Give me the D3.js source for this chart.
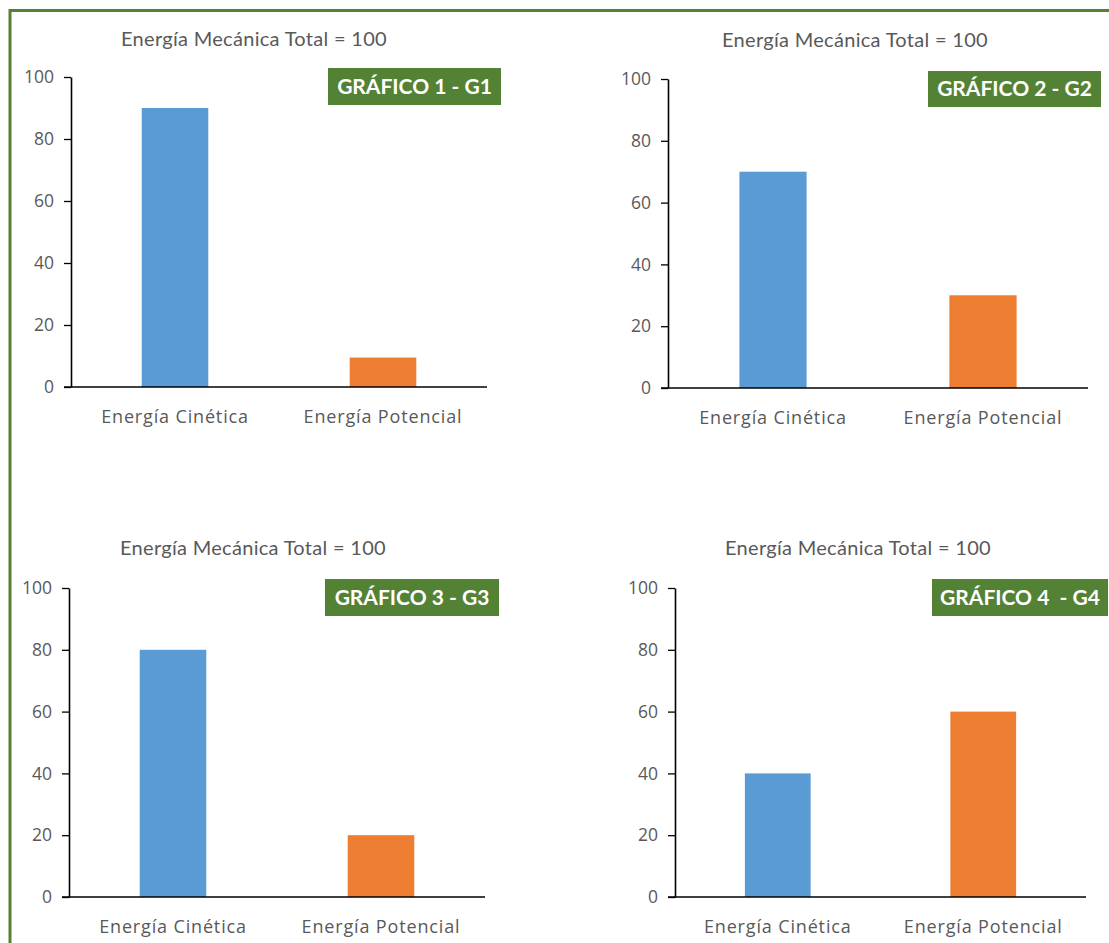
<!DOCTYPE html>
<html>
<head>
<meta charset="utf-8">
<script src="https://cdn.jsdelivr.net/npm/d3@7"></script>
<style>
  html, body { margin: 0; padding: 0; background: #fff; }
  svg { display: block; }
</style>
</head>
<body>
<svg id="chart" width="1109" height="943"></svg>
<script>
// --- data ---
const categories = ["Energía Cinética", "Energía Potencial"];
const g1Values = [90, 9.5];
const g2Values = [70, 30];
const g3Values = [80, 20];
const g4Values = [40, 60];
const chartTitles = ["Energía Mecánica Total = 100", "Energía Mecánica Total = 100",
                     "Energía Mecánica Total = 100", "Energía Mecánica Total = 100"];
const badgeLabels = ["GRÁFICO 1 - G1", "GRÁFICO 2 - G2", "GRÁFICO 3 - G3", "GRÁFICO 4  - G4"];
const yTicks = [0, 20, 40, 60, 80, 100];

const seriesValues = [g1Values, g2Values, g3Values, g4Values];
const barColors = ["#5b9bd5", "#ed7d31"];
const GREEN = "#548235";

// panel layout: plot area (axis corner) + title + badge
const panels = [
  { x0: 71, x1: 487, yTop: 77, yBot: 387, titleX: 254, titleY: 38.5, bx: 328, by: 68, bw: 173, bh: 37 },
  { x0: 668, x1: 1088, yTop: 79, yBot: 388, titleX: 855, titleY: 40, bx: 928, by: 71, bw: 173, bh: 36 },
  { x0: 69, x1: 485, yTop: 588, yBot: 897, titleX: 253, titleY: 548, bx: 325, by: 579, bw: 174, bh: 37 },
  { x0: 675, x1: 1086, yTop: 588, yBot: 897, titleX: 858, titleY: 548, bx: 932, by: 579, bw: 176, bh: 37 }
];

const svg = d3.select("#chart");

// outer green frame (runs off the right and bottom edges)
svg.append("rect")
  .attr("x", 10).attr("y", 10.5)
  .attr("width", 1120).attr("height", 960)
  .attr("fill", "none")
  .attr("stroke", GREEN)
  .attr("stroke-width", 3);

panels.forEach((p, i) => {
  const values = seriesValues[i];
  const g = svg.append("g");

  const x = d3.scaleBand()
    .domain(categories)
    .range([p.x0, p.x1])
    .paddingInner(0.68)
    .paddingOuter(0.34);

  const y = d3.scaleLinear()
    .domain([0, 100])
    .range([p.yBot, p.yTop]);

  // title
  g.append("text")
    .attr("x", p.titleX)
    .attr("y", p.titleY)
    .attr("dy", "0.35em")
    .attr("text-anchor", "middle")
    .attr("fill", "#595959")
    .attr("font-family", "Lato, 'Open Sans', sans-serif")
    .attr("font-size", "20px")
    .attr("letter-spacing", "0.3px")
    .text(chartTitles[i]);

  // bars
  g.selectAll(".bar")
    .data(categories.map((c, k) => ({ cat: c, value: values[k], k })))
    .join("rect")
    .attr("class", "bar")
    .attr("x", d => x(d.cat))
    .attr("width", x.bandwidth())
    .attr("y", d => y(d.value))
    .attr("height", d => y(0) - y(d.value))
    .attr("fill", d => barColors[d.k]);

  // y axis
  const yAxis = g.append("g")
    .attr("transform", `translate(${p.x0},0)`)
    .call(d3.axisLeft(y).tickValues(yTicks).tickSize(7).tickPadding(10).tickSizeOuter(0));
  yAxis.select(".domain").attr("stroke", "#000").attr("stroke-width", 1.6);
  yAxis.selectAll(".tick line").attr("stroke", "#000").attr("stroke-width", 1.3);
  yAxis.selectAll(".tick text")
    .attr("fill", "#595959")
    .attr("font-family", "'Open Sans', sans-serif")
    .attr("font-size", "17.5px");

  // x axis
  const xAxis = g.append("g")
    .attr("transform", `translate(0,${p.yBot})`)
    .call(d3.axisBottom(x).tickSize(0).tickPadding(23).tickSizeOuter(0));
  xAxis.select(".domain")
    .attr("d", `M${p.x0 - 7},0H${p.x1}`)
    .attr("stroke", "#000").attr("stroke-width", 1.6);
  xAxis.selectAll(".tick text")
    .attr("fill", "#595959")
    .attr("font-family", "'Open Sans', sans-serif")
    .attr("font-size", "18px")
    .attr("letter-spacing", "0.85px");

  // badge
  g.append("rect")
    .attr("x", p.bx).attr("y", p.by)
    .attr("width", p.bw).attr("height", p.bh)
    .attr("fill", GREEN);
  g.append("text")
    .attr("x", p.bx + p.bw / 2)
    .attr("y", p.by + p.bh / 2)
    .attr("dy", "0.35em")
    .attr("text-anchor", "middle")
    .attr("fill", "#fff")
    .attr("font-family", "Lato, sans-serif")
    .attr("font-weight", "bold")
    .attr("font-size", "21px")
    .style("white-space", "pre")
    .text(badgeLabels[i]);
});
</script>
</body>
</html>
